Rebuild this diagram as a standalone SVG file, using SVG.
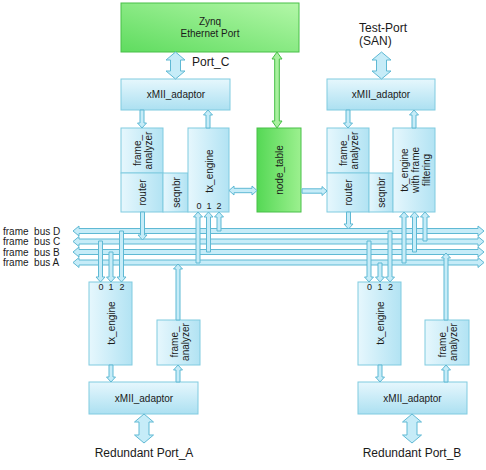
<svg xmlns="http://www.w3.org/2000/svg" width="486" height="470" viewBox="0 0 486 470">
<defs>
<linearGradient id="gH" x1="0" y1="0" x2="0" y2="1"><stop offset="0" stop-color="#e6f7fd"/><stop offset="1" stop-color="#ace0f1"/></linearGradient>
<linearGradient id="gV" x1="0" y1="0" x2="1" y2="0"><stop offset="0" stop-color="#e6f7fd"/><stop offset="1" stop-color="#b2e3f3"/></linearGradient>
<linearGradient id="gG" x1="0" y1="1" x2="1" y2="0"><stop offset="0" stop-color="#5fdc5f"/><stop offset="1" stop-color="#b3f7a8"/></linearGradient>
<linearGradient id="gG2" x1="0" y1="0" x2="1" y2="0"><stop offset="0" stop-color="#55d855"/><stop offset="1" stop-color="#9cf08f"/></linearGradient>
<style>
.b{fill:url(#gH);stroke:#80cbe0;stroke-width:1}
.v{fill:url(#gV);stroke:#80cbe0;stroke-width:1}
.g{stroke:#48c048;stroke-width:1}
.t{font-family:"Liberation Sans",Arial,sans-serif;font-size:10px;fill:#1a1a1a;text-anchor:middle}
.n{font-family:"Liberation Sans",Arial,sans-serif;font-size:9px;fill:#1a1a1a;text-anchor:middle}
.l{font-family:"Liberation Sans",Arial,sans-serif;font-size:12px;fill:#1a1a1a}
.bl{font-family:"Liberation Sans",Arial,sans-serif;font-size:10px;fill:#1a1a1a;white-space:pre}
.a{fill:#c6ecf8;stroke:#5fb9d4;stroke-width:1;stroke-linejoin:miter}
.ga{fill:#a9f09f;stroke:#45bf45;stroke-width:1}
</style>
</defs>
<rect width="486" height="470" fill="#ffffff"/>

<g id="zynq">
<rect x="121" y="3" width="178" height="49" fill="url(#gG)" class="g"/>
<text class="t" x="210" y="25">Zynq</text>
<text class="t" x="210" y="37">Ethernet Port</text>
</g>

<g id="xmii_c">
<rect class="b" x="121" y="79" width="109" height="31"/>
<text class="t" x="176" y="98">xMII_adaptor</text>
</g>
<g id="fa_c">
<rect class="v" x="121" y="128" width="42" height="45"/>
<text class="t" transform="translate(142,150.5) rotate(-90)"><tspan x="0" y="-1.5">frame_</tspan><tspan x="0" y="9.5">analyzer</tspan></text>
</g>
<g id="router_c">
<rect class="v" x="121" y="173" width="42" height="39"/>
<text class="t" transform="translate(142.5,192.5) rotate(-90)" y="3.5">router</text>
</g>
<g id="seqnbr_c">
<rect class="v" x="163" y="173" width="25" height="39"/>
<text class="t" transform="translate(176,192.5) rotate(-90)" y="3.5">seqnbr</text>
</g>
<g id="tx_c">
<rect class="v" x="188" y="128" width="41" height="84"/>
<text class="t" transform="translate(209,171) rotate(-90)" y="3.5">tx_engine</text>
<text class="n" x="199" y="209">0</text><text class="n" x="209" y="209">1</text><text class="n" x="219" y="209">2</text>
</g>
<g id="node_table">
<rect x="257" y="128" width="44" height="84" fill="url(#gG2)" class="g"/>
<text class="t" transform="translate(279.5,170) rotate(-90)" y="3.5">node_table</text>
</g>

<g id="test_port">
<text class="l" x="359" y="32">Test-Port</text>
<text class="l" x="359" y="45">(SAN)</text>
</g>
<g id="xmii_d">
<rect class="b" x="327" y="79" width="108" height="31"/>
<text class="t" x="381" y="98">xMII_adaptor</text>
</g>
<g id="fa_d">
<rect class="v" x="327" y="128" width="42" height="45"/>
<text class="t" transform="translate(348,150.5) rotate(-90)"><tspan x="0" y="-1.5">frame_</tspan><tspan x="0" y="9.5">analyzer</tspan></text>
</g>
<g id="router_d">
<rect class="v" x="327" y="173" width="42" height="39"/>
<text class="t" transform="translate(348.5,192.5) rotate(-90)" y="3.5">router</text>
</g>
<g id="seqnbr_d">
<rect class="v" x="369" y="173" width="24" height="39"/>
<text class="t" transform="translate(381.5,192.5) rotate(-90)" y="3.5">seqnbr</text>
</g>
<g id="tx_d">
<rect class="v" x="393" y="128" width="42" height="84"/>
<text class="t" transform="translate(414,170) rotate(-90)"><tspan x="0" y="-6.5">tx_engine</tspan><tspan x="0" y="4.5">with frame</tspan><tspan x="0" y="15.5">filtering</tspan></text>
</g>

<g id="bus_labels">
<text class="bl" x="3" y="234.5">frame  bus D</text>
<text class="bl" x="3" y="245">frame  bus C</text>
<text class="bl" x="3" y="255.5">frame  bus B</text>
<text class="bl" x="3" y="266">frame  bus A</text>
</g>

<g id="tx_a">
<rect class="v" x="89" y="282" width="43" height="83"/>
<text class="t" transform="translate(111,323) rotate(-90)" y="3.5">tx_engine</text>
<text class="n" x="101" y="290">0</text><text class="n" x="111" y="290">1</text><text class="n" x="122" y="290">2</text>
</g>
<g id="fa_a">
<rect class="v" x="157" y="320" width="43" height="45"/>
<text class="t" transform="translate(179,342) rotate(-90)"><tspan x="0" y="-1.5">frame_</tspan><tspan x="0" y="9.5">analyzer</tspan></text>
</g>
<g id="xmii_a">
<rect class="b" x="89" y="382" width="109" height="32"/>
<text class="t" x="144" y="402">xMII_adaptor</text>
</g>
<g id="port_a">
<text class="l" x="144" y="457" text-anchor="middle">Redundant Port_A</text>
</g>

<g id="tx_b">
<rect class="v" x="358" y="282" width="43" height="83"/>
<text class="t" transform="translate(380,323) rotate(-90)" y="3.5">tx_engine</text>
<text class="n" x="369.5" y="290">0</text><text class="n" x="380" y="290">1</text><text class="n" x="390.5" y="290">2</text>
</g>
<g id="fa_b">
<rect class="v" x="425" y="320" width="44" height="45"/>
<text class="t" transform="translate(447,342) rotate(-90)"><tspan x="0" y="-1.5">frame_</tspan><tspan x="0" y="9.5">analyzer</tspan></text>
</g>
<g id="xmii_b">
<rect class="b" x="358" y="382" width="109" height="32"/>
<text class="t" x="412.5" y="402">xMII_adaptor</text>
</g>
<g id="port_b">
<text class="l" x="412" y="457" text-anchor="middle">Redundant Port_B</text>
</g>

<g id="port_c_label">
<text class="l" x="192" y="66">Port_C</text>
</g>

<g id="connectors">
<!-- buses -->
<path class="a" d="M73,231 L79,226 V228.5 H478 V226 L484,231 L478,236 V233.5 H79 V236 Z"/>
<path class="a" d="M73,241.5 L79,236.5 V239 H478 V236.5 L484,241.5 L478,246.5 V244 H79 V246.5 Z"/>
<path class="a" d="M73,252 L79,247 V249.5 H478 V247 L484,252 L478,257 V254.5 H79 V257 Z"/>
<path class="a" d="M73,262.5 L79,257.5 V260 H478 V257.5 L484,262.5 L478,267.5 V265 H79 V267.5 Z"/>
<!-- big port arrows -->
<path class="a" d="M175.5,52 L185,60 H180.5 V71 H185 L175.5,79 L166,71 H170.5 V60 H166 Z"/>
<path class="a" d="M381.5,52 L391,60 H386.5 V71 H391 L381.5,79 L372,71 H376.5 V60 H372 Z"/>
<path class="a" d="M144,414 L153.5,422 H149 V435 H153.5 L144,443 L134.5,435 H139 V422 H134.5 Z"/>
<path class="a" d="M412,414 L421.5,422 H417 V435 H421.5 L412,443 L402.5,435 H407 V422 H402.5 Z"/>
<!-- green -->
<path class="ga" d="M277,52 L282,59 H279.3 V121 H282 L277,128 L272,121 H274.7 V59 H272 Z"/>
<!-- horizontal -->
<path class="a" d="M229,190.5 L234,186 V188.3 H252 V186 L257,190.5 L252,195 V192.7 H234 V195 Z"/>
<path class="a" d="M302,188.8 H322 V186.5 L327,191 L322,195.5 V193.2 H302 Z"/>
<!-- top-left -->
<path class="a" d="M140,110 h4 V123 h2.5 L142,128 L137.5,123 h2.5 Z"/>
<path class="a" d="M206,128 h4 V115 h2.5 L208,110 L203.5,115 h2.5 Z"/>
<path class="a" d="M140.5,212 h4 V235 h2.5 L142.5,240 L138,235 h2.5 Z"/>
<path class="a" d="M196,263 h4 V217 h2.5 L198,212 L193.5,217 h2.5 Z"/>
<path class="a" d="M206.5,252 h4 V217 h2.5 L208.5,212 L204,217 h2.5 Z"/>
<path class="a" d="M217,231 h4 V217 h2.5 L219,212 L214.5,217 h2.5 Z"/>
<!-- top-right -->
<path class="a" d="M346,110 h4 V123 h2.5 L348,128 L343.5,123 h2.5 Z"/>
<path class="a" d="M412,128 h4 V115 h2.5 L414,110 L409.5,115 h2.5 Z"/>
<path class="a" d="M346.5,212 h4 V224 h2.5 L348.5,229 L344,224 h2.5 Z"/>
<path class="a" d="M402,263 h4 V217 h2.5 L404,212 L399.5,217 h2.5 Z"/>
<path class="a" d="M412.5,252 h4 V217 h2.5 L414.5,212 L410,217 h2.5 Z"/>
<path class="a" d="M423,241 h4 V217 h2.5 L425,212 L420.5,217 h2.5 Z"/>
<!-- bottom-left -->
<path class="a" d="M98.5,241 h4 V277 h2.5 L100.5,282 L96,277 h2.5 Z"/>
<path class="a" d="M109,252 h4 V277 h2.5 L111,282 L106.5,277 h2.5 Z"/>
<path class="a" d="M119.5,231 h4 V277 h2.5 L121.5,282 L117,277 h2.5 Z"/>
<path class="a" d="M176,320 h4 V269 h2.5 L178,264 L173.5,269 h2.5 Z"/>
<path class="a" d="M109,365 h4 V377 h2.5 L111,382 L106.5,377 h2.5 Z"/>
<path class="a" d="M176,382 h4 V370 h2.5 L178,365 L173.5,370 h2.5 Z"/>
<!-- bottom-right -->
<path class="a" d="M367,241 h4 V277 h2.5 L369,282 L364.5,277 h2.5 Z"/>
<path class="a" d="M378,263 h4 V277 h2.5 L380,282 L375.5,277 h2.5 Z"/>
<path class="a" d="M388,231 h4 V277 h2.5 L390,282 L385.5,277 h2.5 Z"/>
<path class="a" d="M444,320 h4 V258 h2.5 L446,253 L441.5,258 h2.5 Z"/>
<path class="a" d="M378,365 h4 V377 h2.5 L380,382 L375.5,377 h2.5 Z"/>
<path class="a" d="M444,382 h4 V370 h2.5 L446,365 L441.5,370 h2.5 Z"/>
</g>
</svg>
